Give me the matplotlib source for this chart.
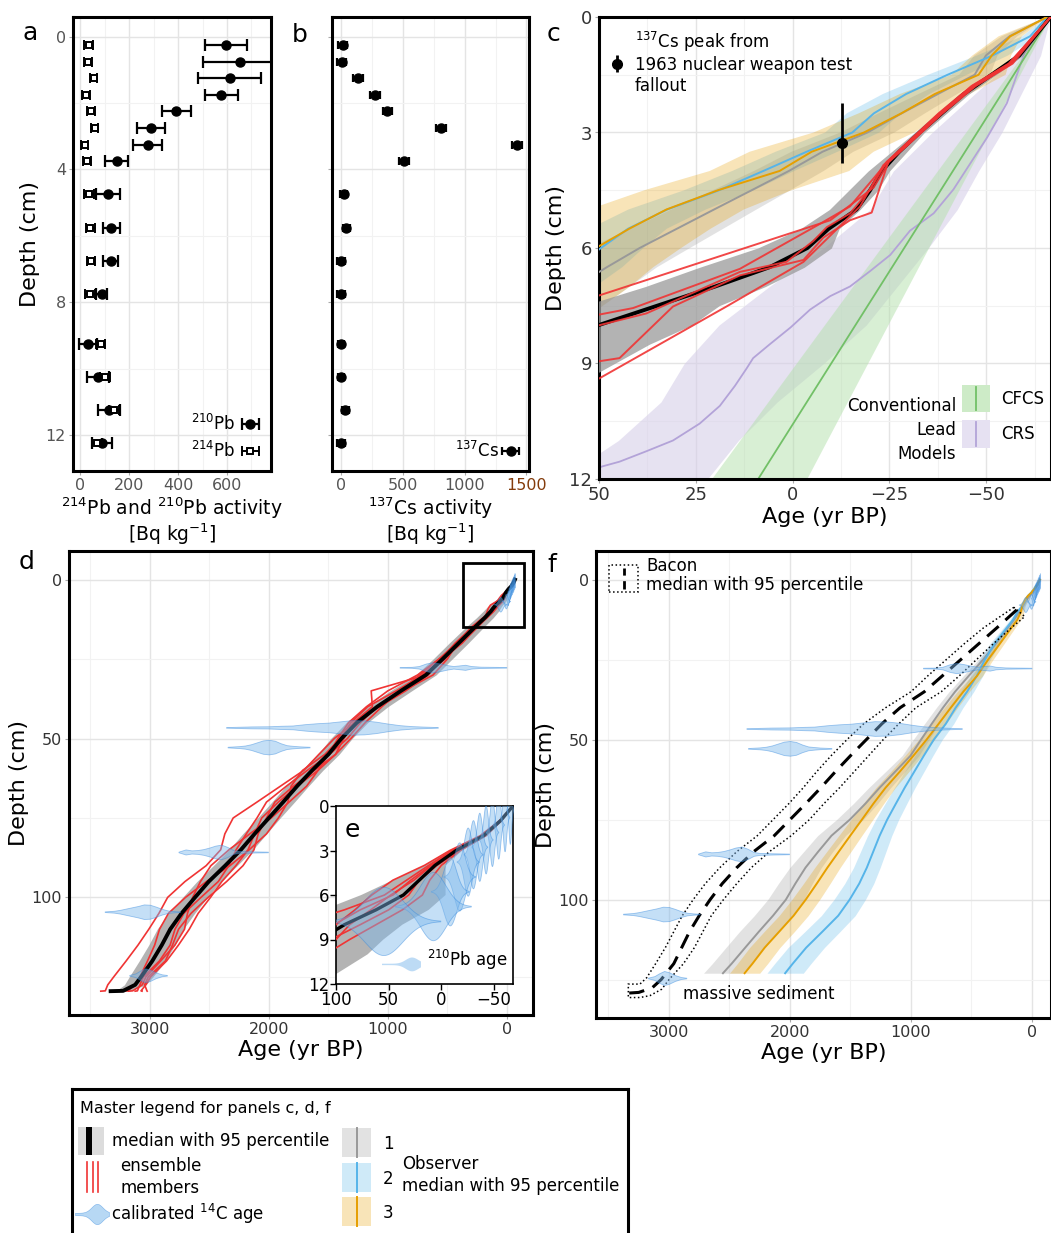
import numpy as np
import matplotlib
matplotlib.use("Agg")
import matplotlib.pyplot as plt
from matplotlib.patches import Rectangle, Polygon

# ---------------- panels a, b: activity profiles ----------------
depth_ab = [0.25, 0.75, 1.25, 1.75, 2.25, 2.75, 3.25, 3.75, 4.75, 5.75, 6.75, 7.75, 9.25, 10.25, 11.25, 12.25]
pb210 = [596, 652, 611, 577, 393, 290, 276, 148, 113, 127, 124, 87, 32, 72, 117, 90]
pb210_err = [84, 150, 128, 69, 58, 58, 59, 46, 48, 35, 32, 24, 38, 45, 44, 41]
pb214 = [34, 32, 55, 23, 44, 59, 18, 28, 37, 41, 44, 41, 83, 101, 138, 69]
pb214_err = [17, 17, 15, 15, 15, 15, 15, 17, 20, 17, 17, 20, 17, 20, 22, 20]
cs137 = [13, 5, 137, 277, 376, 806, 1425, 511, 22, 43, 0, 0, 0, 0, 35, 0]
cs137_err = [35, 35, 40, 40, 40, 40, 40, 40, 30, 30, 30, 30, 25, 25, 30, 30]

# ---------------- panel c: lead-based model ----------------
c_depth = [0, 1, 2, 3, 3.5, 4, 4.5, 5, 5.5, 6, 6.5, 7, 7.5, 8, 8.5, 9, 9.5]
c_med = [-66.6, -58.5, -44.2, -32.8, -27.5, -23.0, -20.0, -16.5, -9.3, -3.8, 6.0, 20.0, 35.0, 50.0, 62.0, 75.0, 88.0]
c_lo = [-66.6, -59.5, -45.5, -34.0, -29.5, -25.0, -22.0, -17.4, -12.0, -10.0, -3.0, 7.0, 19.0, 26.0, 37.0, 46.0, 55.0]
c_hi = [-66.6, -57.5, -43.0, -31.5, -25.5, -19.5, -14.5, -9.5, -2.0, 9.0, 24.0, 38.0, 54.0, 68.0, 80.0, 92.0, 105.0]

c_mem_ages = [
    [-66.6, -56.8, -47.3, -38.6, -29.9, -24.9, -20.9, -9.7, 50.5],
    [-66.6, -55.8, -46.2, -37.6, -29.1, -24.5, -14.8, -7.1, 13.6, 41.2, 50.5],
    [-66.6, -56.2, -46.7, -38.1, -29.5, -24.3, -20.0, -14.8, -8.8, -5.3, 1.6, 13.6, 25.7, 37.8, 50.5],
    [-66.6, -56.5, -47.0, -38.4, -29.8, -24.7, -20.4, -14.8, -7.9, -2.8, 13.6, 30.9, 44.7, 50.5],
    [-66.6, -55.9, -46.4, -37.8, -29.2, -23.4, -17.4, -2.8, 17.1, 50.5],
]
c_mem_depths = [
    [0, 1.21, 1.79, 2.51, 3.31, 3.76, 4.43, 5.28, 7.25],
    [0, 1.21, 1.79, 2.51, 3.31, 3.76, 4.92, 5.37, 6.54, 7.56, 7.74],
    [0, 1.21, 1.79, 2.51, 3.31, 3.76, 4.48, 5.10, 5.46, 5.82, 6.36, 6.62, 7.16, 7.70, 8.02],
    [0, 1.21, 1.79, 2.51, 3.31, 3.76, 5.08, 5.28, 5.73, 6.31, 6.71, 7.52, 8.86, 8.95],
    [0, 1.21, 1.79, 2.51, 3.31, 3.85, 4.92, 6.36, 7.52, 9.42],
]

# conventional lead models
crs_depth = [0, 0.9, 2.24, 3.13, 4.48, 5.1, 5.55, 6.18, 6.6, 7.0, 7.25, 7.6, 8.06, 8.5, 8.86,
             9.13, 9.58, 10.1, 10.56, 11.0, 11.28, 11.55, 11.68, 12.0]
crs_age = [-66.5, -60, -55.3, -50.2, -41.5, -36.4, -30.3, -25.2, -20, -14.8, -9.7, -4.5, 0.5, 5.9, 10.2,
           11.9, 14.9, 18.8, 24, 30.9, 37.8, 44.7, 49.4, 55]
crs_band_depth = [0, 1, 2, 3, 4, 5, 6, 7, 8, 9, 10, 11, 12]
crs_lo = [-66.5, -64, -59, -54, -48, -42.5, -35, -27, -19, -8, 4, 14, 22]
crs_hi = [-66.5, -58, -47, -36, -26, -20, -8, 6, 19, 28, 34, 45, 60]
cfcs_depth = [0, 12]
cfcs_age = [-66.5, 8.9]
cfcs_lo = [-66.5, -3.6]
cfcs_hi = [-66.5, 21.0]

cs_peak_age, cs_peak_depth = -12.7, 3.27
cs_peak_err = [[1.03], [0.51]]

# ---------------- observers (panels c, f) ----------------
obs_depth = [0, 0.5, 1, 1.5, 2, 2.5, 3, 3.5, 4, 4.5, 5, 5.5, 6, 6.5, 7, 7.5, 8, 10, 12.5, 15,
             20, 25, 30, 35, 40, 45, 50, 55, 60, 65, 70, 75, 80, 85, 90, 95, 100, 105, 110, 115, 120, 123]
obs1_age = [-65.7, -56, -49.9, -47, -37.5, -28.2, -19.3, -7.7, 1, 10.6, 20.3, 29.9, 39.5, 48, 56, 64, 72, 105, 150, 200,
            300, 405, 522, 636, 736, 828, 917, 1004, 1131, 1259, 1377, 1506, 1657, 1767, 1872, 1956, 2034, 2140, 2257, 2370, 2482, 2554]
obs1_spread = [0, 2, 3, 4, 5, 6, 7, 8, 9, 10, 11, 12, 13, 13, 14, 15, 16, 20, 25, 30,
               35, 40, 45, 50, 55, 60, 65, 70, 80, 90, 100, 110, 115, 120, 130, 140, 150, 155, 160, 160, 160, 160]
obs2_age = [-65.7, -61.3, -51.6, -40, -29.3, -21, -15.4, -3.6, 7.6, 19, 32.4, 42.5, 49.5, 56, 63, 70, 77, 120, 157, 208,
            309, 390, 456, 537, 631, 712, 812, 894, 973, 1052, 1125, 1197, 1259, 1312, 1365, 1428, 1507, 1601, 1732, 1866, 1977, 2040]
obs2_spread = [0, 2, 4, 5, 6, 7, 7, 8, 8, 9, 10, 10, 11, 12, 12, 13, 14, 20, 25, 30,
               40, 45, 50, 55, 60, 65, 70, 75, 80, 85, 90, 95, 100, 105, 110, 120, 130, 140, 145, 150, 150, 150]
obs3_age = [-65.7, -56.2, -51.4, -48, -36.7, -28.1, -18.4, -4.9, 3.4, 19.3, 32.6, 42.2, 50.8, 58, 65, 72, 79, 92, 121, 170,
            266, 363, 453, 568, 671, 771, 872, 980, 1093, 1210, 1311, 1406, 1502, 1597, 1691, 1779, 1870, 1970, 2089, 2209, 2310, 2375]
obs3_spread = [0, 3, 5, 7, 9, 11, 13, 16, 18, 19, 20, 21, 22, 22, 23, 23, 24, 26, 28, 30,
               35, 40, 45, 50, 55, 60, 65, 70, 75, 80, 85, 90, 95, 100, 105, 110, 115, 120, 125, 125, 125, 125]

# ---------------- panel d / e: combined model ----------------
d_depth = [0, 1, 2, 3, 4, 5, 6, 7, 8, 9, 10, 12, 15,
           20, 25, 30, 35, 40, 45, 50, 55, 60, 65, 70, 75, 80, 85, 90, 95, 100, 105, 110, 115, 120, 125,
           127.5, 129.4, 129.5]
d_med = [-68, -56, -40, -14, 6, 21, 36, 62, 92, 115, 135, 185, 270,
         405, 540, 680, 890, 1090, 1260, 1390, 1500, 1636, 1763, 1880, 2000, 2120, 2235, 2367, 2505, 2621, 2734, 2829, 2900, 2980, 3074,
         3124, 3225, 3330]
d_spread = [0, 2, 4, 6, 10, 25, 40, 50, 55, 60, 65, 70, 75,
            80, 80, 85, 90, 90, 90, 90, 90, 90, 95, 95, 95, 100, 100, 100, 100, 105, 110, 110, 110, 110, 100,
            90, 60, 40]
# ensemble members, as offsets (yr) from the median at d_depth
d_member_offsets = [
    [0, 0, -2, -4, -6, -10, -18, -25, -30, -28, -25, -20, -10,
     0, -20, 0, 250, 40, 30, -20, -60, -50, 0, 40, 60, 0, -60, -90, -110, -130, -140, -160, -140, -120, -80,
     -90, -150, -264],
    [0, 1, 3, 6, 10, 25, 30, 20, 8, 0, 5, 10, 20,
     30, 10, -20, -40, -20, 20, 60, 80, 70, 140, 220, 300, 250, 170, 160, 200, 230, 190, 180, 200, 220, 230,
     230, 150, 83],
    [0, 0, 2, 4, 6, 12, 18, 30, 45, 40, 30, 0, -20,
     -30, 0, 30, 40, 80, 50, 10, 30, 80, 50, -40, -80, -100, -70, -40, 20, 80, 110, 90, 60, 40, 10,
     0, -40, -105],
    [0, -1, -2, -3, -2, 0, -5, -12, -15, -10, 0, -5, 5,
     20, 30, 50, 10, -40, -70, -80, -60, -20, 30, 70, 20, -30, -110, -150, -150, -110, -80, -70, -90, -110, -60,
     -80, -200, -307],
    [0, 1, 1, 2, 4, 8, 10, 15, 10, 5, 0, 15, 30,
     10, -40, -60, -20, 0, -30, -50, -10, 40, 90, 140, 100, 70, 40, -30, -80, -50, -20, -40, -70, -60, -20,
     -40, -120, -206],
    [0, 0, -1, 1, 3, 5, 12, 5, -5, -15, -20, -15, -25,
     -10, 30, 70, 110, 90, 70, 30, 0, -50, -80, -50, -20, 40, 100, 120, 70, 20, -50, -120, -110, -70, -40,
     -60, -80, -150],
]
e_box_ages = [370, -143]
e_box_depths = [-5.3, 14.8]

# 210Pb ages (mean, sd) per sampled depth
pb_age_depth = [0.25, 0.75, 1.25, 1.75, 2.25, 2.75, 3.25, 3.75, 4.75, 5.75, 6.75, 7.75]
pb_age_mean = [-65, -60, -54, -48, -42, -36, -30, -25, -17, -8, 8, 55]
pb_age_sd = [1.2, 1.5, 1.8, 2, 2.2, 2.5, 3, 3.5, 5, 6, 12, 18]

# calibrated 14C age profiles (age, half thickness in cm)
c14_depth = [27.6, 46.5, 52.7, 85.7, 104.5, 124.5]
c14_ages = [
    [901, 800, 740, 680, 625, 560, 500, 450, 400, 350, 300, 220, 120, 5],
    [2360, 2250, 2150, 2000, 1900, 1800, 1700, 1600, 1500, 1400, 1300, 1200, 1100, 1000, 900, 800, 700, 580],
    [2347, 2250, 2200, 2150, 2100, 2050, 2000, 1950, 1900, 1850, 1800, 1750, 1658],
    [2760, 2700, 2650, 2600, 2550, 2500, 2450, 2400, 2350, 2300, 2250, 2150, 2008],
    [3380, 3300, 3250, 3200, 3150, 3100, 3050, 3000, 2950, 2900, 2850, 2800, 2747],
    [3174, 3120, 3080, 3040, 3000, 2950, 2900, 2857],
]
c14_half = [
    [0.1, 0.15, 0.4, 1.2, 1.6, 1.2, 0.7, 0.4, 0.6, 0.8, 0.4, 0.2, 0.15, 0.1],
    [0.1, 0.2, 0.3, 0.35, 0.5, 0.6, 1.0, 1.3, 1.5, 1.9, 2.3, 2.2, 1.8, 1.2, 0.7, 0.4, 0.25, 0.1],
    [0.1, 0.3, 0.5, 0.9, 1.5, 2.1, 2.3, 2.0, 1.2, 0.6, 0.4, 0.25, 0.1],
    [0.1, 0.8, 0.5, 0.6, 0.9, 1.4, 2.0, 2.3, 1.6, 0.6, 0.3, 0.2, 0.1],
    [0.1, 0.3, 0.6, 1.0, 1.4, 1.8, 2.3, 2.2, 1.6, 0.9, 0.4, 0.2, 0.1],
    [0.1, 0.6, 1.5, 2.2, 1.8, 0.9, 0.3, 0.1],
]

# ---------------- panel f: Bacon ----------------
bacon_depth = [9.4, 15, 20, 25, 30, 35, 40, 45, 50, 55, 60, 65, 70, 75, 80, 85, 90, 95, 100, 105, 110, 115, 120, 125, 127.6, 129.0, 129.2]
bacon_med = [126, 290, 440, 590, 740, 890, 1090, 1240, 1370, 1500, 1625, 1745, 1870, 2000, 2130, 2300, 2440, 2560, 2660, 2750, 2830, 2895, 2960, 3065, 3140, 3250, 3330]
bacon_hi_depth = [8.6, 15, 20, 25, 30, 35, 40, 45, 50, 55, 60, 65, 70, 75, 80, 85, 90, 95, 100, 105, 110, 115, 120, 124.4, 126.4, 126.4]
bacon_hi_age = [150, 400, 560, 710, 860, 1000, 1210, 1390, 1530, 1660, 1780, 1890, 2010, 2140, 2270, 2440, 2580, 2700, 2800, 2890, 2960, 3030, 3110, 3184, 3240, 3336]
bacon_lo_depth = [11.5, 15, 20, 25, 30, 35, 40, 45, 50, 55, 60, 65, 70, 75, 80, 85, 90, 95, 100, 105, 110, 115, 120, 125, 128, 130, 130.6, 130.6]
bacon_lo_age = [60, 170, 320, 460, 600, 750, 960, 1100, 1230, 1350, 1470, 1590, 1720, 1840, 1990, 2170, 2320, 2440, 2550, 2650, 2720, 2790, 2880, 3000, 3060, 3157, 3240, 3336]

# ---------------- styling ----------------
W, H = 1051, 1233
RED = "#f03434"
OBS_COLORS = ["#999999", "#56B4E9", "#E69F00"]
VIOLIN_FACE = "#7db8ec"
VIOLIN_EDGE = "#2f86dd"
BAND_GREY = "#9a9a9a"

fig = plt.figure(figsize=(W / 100, H / 100), dpi=100)


def rect(l, t, r, b):
    return [l / W, 1 - b / H, (r - l) / W, (b - t) / H]


def frame(ax, xmaj, xmin, ymaj, ymin, tick_color="#333333"):
    ax.set_xticks(xmaj)
    ax.set_xticks(xmin, minor=True)
    ax.set_yticks(ymaj)
    ax.set_yticks(ymin, minor=True)
    ax.grid(which="major", color="#e4e4e4", lw=1.0)
    ax.grid(which="minor", color="#f2f2f2", lw=0.8)
    ax.set_axisbelow(True)
    for sp in ax.spines.values():
        sp.set_linewidth(2.2)
    ax.tick_params(which="major", length=3, width=0.8, color="#aaaaaa",
                   labelsize=11.5, labelcolor=tick_color, pad=2)
    ax.tick_params(which="minor", length=0)


def draw_pb_violins(ax, thick=2.3):
    z = np.linspace(-3, 3, 61)
    prof = thick * np.exp(-0.5 * z ** 2)
    for dep, mu, sd in zip(pb_age_depth, pb_age_mean, pb_age_sd):
        ax.fill_between(mu + sd * z, dep - prof, dep + prof, facecolor=VIOLIN_FACE,
                        alpha=0.45, edgecolor=VIOLIN_EDGE, lw=0.6, zorder=6)


def draw_c14_violins(ax):
    for dep, ages, half in zip(c14_depth, c14_ages, c14_half):
        h = np.array(half)
        ax.fill_between(ages, dep - h, dep + h, facecolor=VIOLIN_FACE, alpha=0.45,
                        edgecolor=VIOLIN_EDGE, lw=0.6, zorder=6)


def draw_model(ax, lw_med=2.8):
    med = np.array(d_med)
    spread = np.array(d_spread)
    ax.fill_betweenx(d_depth, med - spread, med + spread, color=BAND_GREY, alpha=0.75, lw=0, zorder=2)
    for off in d_member_offsets:
        ax.plot(med + np.array(off), d_depth, color=RED, lw=1.2, zorder=3)
    ax.plot(med, d_depth, color="black", lw=lw_med, zorder=4)


def draw_observers(ax):
    for ages, spread, col in zip([obs1_age, obs2_age, obs3_age],
                                 [obs1_spread, obs2_spread, obs3_spread], OBS_COLORS):
        a, s = np.array(ages), np.array(spread)
        ax.fill_betweenx(obs_depth, a - s, a + s, color=col, alpha=0.28, lw=0, zorder=2)
        ax.plot(a, obs_depth, color=col, lw=1.4, zorder=3)


# ---------------- a ----------------
ax_a = fig.add_axes(rect(73, 17, 271, 471))
eb210 = ax_a.errorbar(pb210, depth_ab, xerr=pb210_err, fmt="o", color="black", ms=6.5,
                      capsize=4, elinewidth=1.6, capthick=1.6)
eb214 = ax_a.errorbar(pb214, depth_ab, xerr=pb214_err, fmt="s", color="black", mfc="white",
                      mec="black", ms=4.5, mew=1.4, capsize=3.5, elinewidth=1.4, capthick=1.4)
ax_a.set_xlim(-30, 780)
ax_a.set_ylim(13.08, -0.59)
frame(ax_a, [0, 200, 400, 600], [100, 300, 500, 700], [0, 4, 8, 12], [2, 6, 10], "#555555")
ax_a.set_ylabel("Depth (cm)", fontsize=16)
ax_a.set_xlabel(r"$^{214}$Pb and $^{210}$Pb activity" + "\n" + r"[Bq kg$^{-1}$]",
                fontsize=13.5, linespacing=1.0, labelpad=2)
ax_a.legend([eb210, eb214], [r"$^{210}$Pb", r"$^{214}$Pb"], loc="lower right", frameon=False,
            markerfirst=False, fontsize=12, handlelength=1.3, handletextpad=0.2,
            borderaxespad=0.2, labelspacing=0.4)

# ---------------- b ----------------
ax_b = fig.add_axes(rect(332, 17, 529, 471))
eb137 = ax_b.errorbar(cs137, depth_ab, xerr=cs137_err, fmt="o", color="black", ms=6.5,
                      capsize=3, elinewidth=1.6, capthick=1.6)
ax_b.set_xlim(-73, 1521)
ax_b.set_ylim(13.08, -0.59)
frame(ax_b, [0, 500, 1000, 1500], [250, 750, 1250], [0, 4, 8, 12], [2, 6, 10], "#555555")
ax_b.tick_params(labelleft=False)
ax_b.set_xticklabels(["0", "500", "1000", "1500"])
ax_b.get_xticklabels()[3].set_color("#843c0c")
ax_b.set_xlabel(r"$^{137}$Cs activity" + "\n" + r"[Bq kg$^{-1}$]", fontsize=13.5,
                linespacing=1.0, labelpad=2)
ax_b.legend([eb137], [r"$^{137}$Cs"], loc="lower right", frameon=False, markerfirst=False,
            fontsize=12, handlelength=1.0, handletextpad=0.2, borderaxespad=0.2)

# ---------------- c ----------------
ax_c = fig.add_axes(rect(599, 17, 1051, 479))
ax_c.fill_betweenx(crs_band_depth, crs_lo, crs_hi, color="#d6cfe9", alpha=0.6, lw=0, zorder=1)
ax_c.plot(crs_age, crs_depth, color="#b3a3d8", lw=1.3, zorder=2)
ax_c.fill_betweenx(cfcs_depth, cfcs_lo, cfcs_hi, color="#b3e0ab", alpha=0.5, lw=0, zorder=1)
ax_c.plot(cfcs_age, cfcs_depth, color="#72c067", lw=1.3, zorder=2)
draw_observers(ax_c)
ax_c.fill_betweenx(c_depth, c_lo, c_hi, color=BAND_GREY, alpha=0.75, lw=0, zorder=3)
ax_c.plot(c_med, c_depth, color="black", lw=2.8, zorder=4)
for ages, depths in zip(c_mem_ages, c_mem_depths):
    ax_c.plot(ages, depths, color=RED, lw=1.4, alpha=0.9, zorder=5)
cs_peak = ax_c.errorbar([cs_peak_age], [cs_peak_depth], yerr=cs_peak_err, fmt="o", color="black",
                        ms=7, elinewidth=2, capsize=0, zorder=7)
ax_c.set_xlim(50, -66.7)
ax_c.set_ylim(12, 0)
frame(ax_c, [50, 25, 0, -25, -50], [37.5, 12.5, -12.5, -37.5, -62.5], [0, 3, 6, 9, 12],
      [1.5, 4.5, 7.5, 10.5])
ax_c.tick_params(labelsize=13)
ax_c.set_xlabel("Age (yr BP)", fontsize=16, labelpad=2)
ax_c.set_ylabel("Depth (cm)", fontsize=16, labelpad=2)
ax_c.legend([cs_peak], [r"$^{137}$Cs peak from" + "\n1963 nuclear weapon test\nfallout"],
            loc="upper left", frameon=False, fontsize=12, handlelength=0.6, handletextpad=0.8,
            borderaxespad=0.35)
# conventional lead model key
for y0, face, line_col, label in [(0.145, "#cdebc7", "#72c067", "CFCS"),
                                  (0.068, "#e6e1f2", "#b3a3d8", "CRS")]:
    ax_c.add_patch(Rectangle((0.804, y0), 0.062, 0.059, transform=ax_c.transAxes,
                             facecolor=face, lw=0, zorder=8))
    ax_c.plot([0.835, 0.835], [y0 + 0.004, y0 + 0.055], transform=ax_c.transAxes,
              color=line_col, lw=1.3, zorder=9)
    ax_c.text(0.89, y0 + 0.029, label, transform=ax_c.transAxes, va="center", fontsize=12, zorder=9)
ax_c.text(0.79, 0.106, "Conventional\nLead\nModels", transform=ax_c.transAxes, ha="right",
          va="center", multialignment="right", fontsize=12, linespacing=1.45, zorder=9)

# ---------------- d ----------------
ax_d = fig.add_axes(rect(69, 551, 533, 1015))
draw_model(ax_d)
draw_c14_violins(ax_d)
draw_pb_violins(ax_d)
ax_d.add_patch(Rectangle((e_box_ages[1], e_box_depths[0]), e_box_ages[0] - e_box_ages[1],
                         e_box_depths[1] - e_box_depths[0], fill=False, ec="black", lw=2, zorder=8))
ax_d.set_xlim(3680, -220)
ax_d.set_ylim(137, -9)
frame(ax_d, [0, 1000, 2000, 3000], [500, 1500, 2500, 3500], [0, 50, 100], [25, 75, 125])
ax_d.set_xlabel("Age (yr BP)", fontsize=16, labelpad=2)
ax_d.set_ylabel("Depth (cm)", fontsize=16, labelpad=2)

# ---------------- e (inset) ----------------
ax_e = fig.add_axes(rect(336, 806, 513, 984))
ax_e.set_facecolor("white")
draw_model(ax_e, lw_med=2.4)
draw_pb_violins(ax_e)
ax_e.set_xlim(100, -68)
ax_e.set_ylim(12, 0)
ax_e.set_xticks([100, 50, 0, -50])
ax_e.set_yticks([0, 3, 6, 9, 12])
ax_e.tick_params(length=4, width=1, labelsize=12, pad=1)
for sp in ax_e.spines.values():
    sp.set_linewidth(1.2)
ax_e.text(0.05, 0.93, "e", transform=ax_e.transAxes, fontsize=18, va="top")
# key for the 210Pb age shapes
ax_e.text(0.97, 0.07, r"$^{210}$Pb age", transform=ax_e.transAxes, ha="right", va="bottom", fontsize=12)
key_x = np.linspace(0.26, 0.48, 30)
key_h = 0.035 * np.exp(-0.5 * ((key_x - 0.43) / 0.035) ** 2) + 0.004
ax_e.fill_between(key_x, 0.11 - key_h, 0.11 + key_h, transform=ax_e.transAxes,
                  facecolor=VIOLIN_FACE, alpha=0.5, lw=0)

# ---------------- f ----------------
ax_f = fig.add_axes(rect(596, 551, 1051, 1018))
draw_observers(ax_f)
ax_f.plot(bacon_med, bacon_depth, color="black", lw=2.2, ls=(0, (5, 3)), zorder=5)
outline = np.column_stack([bacon_hi_age + bacon_lo_age[::-1], bacon_hi_depth + bacon_lo_depth[::-1]])
ax_f.add_patch(Polygon(outline, closed=True, fill=False, ec="black", lw=1.1, ls=":", zorder=5))
draw_c14_violins(ax_f)
draw_pb_violins(ax_f)
ax_f.text(2880, 129.6, "massive sediment", va="center", fontsize=12)
ax_f.set_xlim(3603, -157)
ax_f.set_ylim(137, -9)
frame(ax_f, [0, 1000, 2000, 3000], [500, 1500, 2500, 3500], [0, 50, 100], [25, 75, 125])
ax_f.set_xlabel("Age (yr BP)", fontsize=16, labelpad=2)
ax_f.set_ylabel("Depth (cm)", fontsize=16, labelpad=2)
ax_f.add_patch(Rectangle((0.029, 0.912), 0.063, 0.058, transform=ax_f.transAxes, fill=False,
                         ec="black", lw=1.1, ls=":", zorder=8))
ax_f.plot([0.0605, 0.0605], [0.918, 0.964], transform=ax_f.transAxes, color="black", lw=2,
          ls=(0, (3, 2)), zorder=8)
ax_f.text(0.11, 0.968, "Bacon", transform=ax_f.transAxes, va="center", fontsize=12)
ax_f.text(0.11, 0.927, "median with 95 percentile", transform=ax_f.transAxes, va="center", fontsize=12)

# ---------------- master legend ----------------
ax_l = fig.add_axes(rect(72, 1089, 628, 1260))
ax_l.set_xlim(72, 628)
ax_l.set_ylim(1260, 1089)
ax_l.set_xticks([])
ax_l.set_yticks([])
for sp in ax_l.spines.values():
    sp.set_linewidth(2.2)
ax_l.text(80, 1108, "Master legend for panels c, d, f", va="center", fontsize=11.5)
ax_l.add_patch(Rectangle((78, 1127), 26, 28, color="#dcdcdc", lw=0))
ax_l.add_patch(Rectangle((86, 1127), 6, 28, color="black", lw=0))
ax_l.text(112, 1141, "median with 95 percentile", va="center", fontsize=12)
for x in (87, 92.5, 98):
    ax_l.plot([x, x], [1162, 1192], color=RED, lw=1.2)
ax_l.text(120, 1177, "ensemble\nmembers", va="center", fontsize=12, linespacing=1.3)
leg_x = np.linspace(75, 109, 40)
leg_h = 9 * np.exp(-0.5 * ((leg_x - 97) / 5.5) ** 2) + 1.2
ax_l.fill_between(leg_x, 1214 - leg_h, 1214 + leg_h, facecolor=VIOLIN_FACE, alpha=0.55,
                  edgecolor=VIOLIN_EDGE, lw=0.4)
ax_l.text(111, 1214, r"calibrated $^{14}$C age", va="center", fontsize=12)
for (y0, col), num in zip([(1128, OBS_COLORS[0]), (1163, OBS_COLORS[1]), (1197, OBS_COLORS[2])], "123"):
    ax_l.add_patch(Rectangle((342, y0), 29, 29, color=col, alpha=0.28, lw=0))
    ax_l.plot([356.5, 356.5], [y0, y0 + 29], color=col, lw=1.4)
    ax_l.text(383, y0 + 16, num, va="center", fontsize=12)
ax_l.text(402, 1175, "Observer\nmedian with 95 percentile", va="center", fontsize=12, linespacing=1.3)

# panel letters
for letter, x, y in [("a", 30, 33), ("b", 300, 35), ("c", 553, 34), ("d", 27, 562), ("f", 552, 565)]:
    fig.text(x / W, 1 - y / H, letter, fontsize=18, ha="center", va="center")

fig.savefig("out.png", dpi=100)
